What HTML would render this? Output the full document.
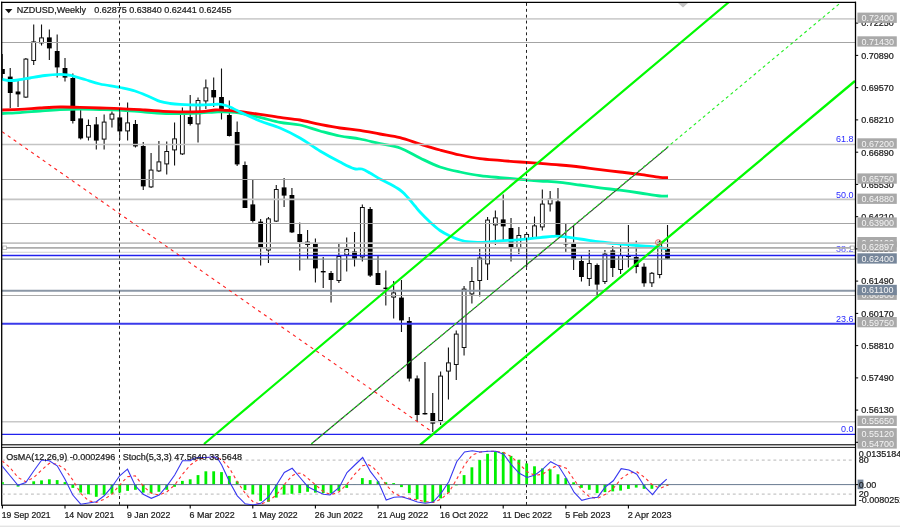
<!DOCTYPE html>
<html><head><meta charset="utf-8"><title>NZDUSD Weekly</title>
<style>html,body{margin:0;padding:0;background:#fff}svg{display:block}text{font-family:"Liberation Sans",sans-serif;font-size:9px}.k{fill:#1a1a1a;stroke:#1a1a1a;stroke-width:.22px}</style></head><body>
<svg width="900" height="527" viewBox="0 0 900 527">
<rect width="900" height="527" fill="#fff"/>
<rect x="0" y="525.6" width="900" height="1.4" fill="#e4e4e4"/>
<defs><clipPath id="m"><rect x="2.2" y="2.8" width="653" height="442"/></clipPath><clipPath id="mm"><rect x="2.2" y="2.8" width="853" height="442"/></clipPath><clipPath id="s"><rect x="2.2" y="447.5" width="853" height="57.5"/></clipPath></defs>
<g clip-path="url(#mm)" shape-rendering="auto">
<line x1="2.40" x2="2.40" y1="54" y2="80" stroke="#111" stroke-width="1.1"/>
<rect x="0.00" y="69" width="4.8" height="5.0" fill="#000"/>
<line x1="10.22" x2="10.22" y1="68" y2="108" stroke="#111" stroke-width="1.1"/>
<rect x="7.82" y="76.6" width="4.8" height="16.4" fill="#000"/>
<line x1="18.05" x2="18.05" y1="80" y2="107" stroke="#111" stroke-width="1.1"/>
<rect x="15.65" y="91.5" width="4.8" height="2.9" fill="#000"/>
<line x1="25.88" x2="25.88" y1="58" y2="98" stroke="#111" stroke-width="1.1"/>
<rect x="23.98" y="59.1" width="3.8" height="38.0" fill="#fff" stroke="#111" stroke-width="1"/>
<line x1="33.70" x2="33.70" y1="24.4" y2="65" stroke="#111" stroke-width="1.1"/>
<rect x="31.80" y="41.9" width="3.8" height="18.6" fill="#fff" stroke="#111" stroke-width="1"/>
<line x1="41.52" x2="41.52" y1="24.4" y2="45.6" stroke="#111" stroke-width="1.1"/>
<rect x="39.62" y="37.9" width="3.8" height="5.0" fill="#fff" stroke="#111" stroke-width="1"/>
<line x1="49.35" x2="49.35" y1="29.6" y2="60" stroke="#111" stroke-width="1.1"/>
<rect x="46.95" y="37.4" width="4.8" height="11.0" fill="#000"/>
<line x1="57.17" x2="57.17" y1="34.4" y2="77.6" stroke="#111" stroke-width="1.1"/>
<rect x="54.77" y="51" width="4.8" height="16.4" fill="#000"/>
<line x1="65.00" x2="65.00" y1="58" y2="81.6" stroke="#111" stroke-width="1.1"/>
<rect x="62.60" y="68" width="4.8" height="9.6" fill="#000"/>
<line x1="72.83" x2="72.83" y1="73.6" y2="123.6" stroke="#111" stroke-width="1.1"/>
<rect x="70.42" y="78" width="4.8" height="43.0" fill="#000"/>
<line x1="80.65" x2="80.65" y1="110" y2="139.6" stroke="#111" stroke-width="1.1"/>
<rect x="78.25" y="118.4" width="4.8" height="20.0" fill="#000"/>
<line x1="88.48" x2="88.48" y1="119.6" y2="140.4" stroke="#111" stroke-width="1.1"/>
<rect x="86.58" y="125.5" width="3.8" height="11.6" fill="#fff" stroke="#111" stroke-width="1"/>
<line x1="96.30" x2="96.30" y1="117" y2="149.4" stroke="#111" stroke-width="1.1"/>
<rect x="93.90" y="124.4" width="4.8" height="16.2" fill="#000"/>
<line x1="104.13" x2="104.13" y1="114.4" y2="149.4" stroke="#111" stroke-width="1.1"/>
<rect x="102.23" y="122.1" width="3.8" height="17.0" fill="#fff" stroke="#111" stroke-width="1"/>
<line x1="111.95" x2="111.95" y1="111.6" y2="127.6" stroke="#111" stroke-width="1.1"/>
<rect x="110.05" y="114.1" width="3.8" height="5.0" fill="#fff" stroke="#111" stroke-width="1"/>
<line x1="119.78" x2="119.78" y1="111" y2="140" stroke="#111" stroke-width="1.1"/>
<rect x="117.38" y="117.4" width="4.8" height="14.0" fill="#000"/>
<line x1="127.60" x2="127.60" y1="102.6" y2="140.4" stroke="#111" stroke-width="1.1"/>
<rect x="125.70" y="122.9" width="3.8" height="8.0" fill="#fff" stroke="#111" stroke-width="1"/>
<line x1="135.43" x2="135.43" y1="120" y2="147.4" stroke="#111" stroke-width="1.1"/>
<rect x="133.03" y="124" width="4.8" height="22.4" fill="#000"/>
<line x1="143.25" x2="143.25" y1="142" y2="190" stroke="#111" stroke-width="1.1"/>
<rect x="140.85" y="146" width="4.8" height="40.4" fill="#000"/>
<line x1="151.08" x2="151.08" y1="153" y2="188" stroke="#111" stroke-width="1.1"/>
<rect x="149.18" y="170.1" width="3.8" height="16.8" fill="#fff" stroke="#111" stroke-width="1"/>
<line x1="158.90" x2="158.90" y1="141" y2="172" stroke="#111" stroke-width="1.1"/>
<rect x="157.00" y="161.9" width="3.8" height="9.0" fill="#fff" stroke="#111" stroke-width="1"/>
<line x1="166.73" x2="166.73" y1="141.6" y2="174.4" stroke="#111" stroke-width="1.1"/>
<rect x="164.83" y="151.5" width="3.8" height="12.4" fill="#fff" stroke="#111" stroke-width="1"/>
<line x1="174.55" x2="174.55" y1="122.4" y2="165.6" stroke="#111" stroke-width="1.1"/>
<rect x="172.65" y="138.9" width="3.8" height="11.0" fill="#fff" stroke="#111" stroke-width="1"/>
<line x1="182.38" x2="182.38" y1="107.6" y2="155" stroke="#111" stroke-width="1.1"/>
<rect x="180.47" y="113.5" width="3.8" height="40.4" fill="#fff" stroke="#111" stroke-width="1"/>
<line x1="190.20" x2="190.20" y1="95" y2="125.6" stroke="#111" stroke-width="1.1"/>
<rect x="187.80" y="117" width="4.8" height="7.0" fill="#000"/>
<line x1="198.03" x2="198.03" y1="97.6" y2="142.4" stroke="#111" stroke-width="1.1"/>
<rect x="196.12" y="100.5" width="3.8" height="23.4" fill="#fff" stroke="#111" stroke-width="1"/>
<line x1="205.85" x2="205.85" y1="79.4" y2="109" stroke="#111" stroke-width="1.1"/>
<rect x="203.95" y="87.9" width="3.8" height="13.0" fill="#fff" stroke="#111" stroke-width="1"/>
<line x1="213.68" x2="213.68" y1="77.4" y2="107" stroke="#111" stroke-width="1.1"/>
<rect x="211.28" y="90" width="4.8" height="7.4" fill="#000"/>
<line x1="221.50" x2="221.50" y1="68.4" y2="119.6" stroke="#111" stroke-width="1.1"/>
<rect x="219.10" y="97" width="4.8" height="12.0" fill="#000"/>
<line x1="229.33" x2="229.33" y1="100.6" y2="136.6" stroke="#111" stroke-width="1.1"/>
<rect x="226.93" y="115" width="4.8" height="21.0" fill="#000"/>
<line x1="237.15" x2="237.15" y1="121.6" y2="166" stroke="#111" stroke-width="1.1"/>
<rect x="234.75" y="132" width="4.8" height="32.4" fill="#000"/>
<line x1="244.98" x2="244.98" y1="161.6" y2="208" stroke="#111" stroke-width="1.1"/>
<rect x="242.58" y="165" width="4.8" height="43.0" fill="#000"/>
<line x1="252.80" x2="252.80" y1="180" y2="222.4" stroke="#111" stroke-width="1.1"/>
<rect x="250.40" y="204.4" width="4.8" height="16.6" fill="#000"/>
<line x1="260.62" x2="260.62" y1="219" y2="265.6" stroke="#111" stroke-width="1.1"/>
<rect x="258.23" y="221.6" width="4.8" height="25.4" fill="#000"/>
<line x1="268.45" x2="268.45" y1="217" y2="263" stroke="#111" stroke-width="1.1"/>
<rect x="266.55" y="218.9" width="3.8" height="31.2" fill="#fff" stroke="#111" stroke-width="1"/>
<line x1="276.27" x2="276.27" y1="185" y2="222" stroke="#111" stroke-width="1.1"/>
<rect x="274.38" y="189.5" width="3.8" height="31.6" fill="#fff" stroke="#111" stroke-width="1"/>
<line x1="284.10" x2="284.10" y1="178" y2="207" stroke="#111" stroke-width="1.1"/>
<rect x="281.70" y="187.4" width="4.8" height="8.2" fill="#000"/>
<line x1="291.93" x2="291.93" y1="188" y2="233" stroke="#111" stroke-width="1.1"/>
<rect x="289.53" y="195" width="4.8" height="37.4" fill="#000"/>
<line x1="299.75" x2="299.75" y1="222.4" y2="270.4" stroke="#111" stroke-width="1.1"/>
<rect x="297.35" y="234" width="4.8" height="8.0" fill="#000"/>
<line x1="307.57" x2="307.57" y1="230" y2="259" stroke="#111" stroke-width="1.1"/>
<rect x="305.68" y="242.1" width="3.8" height="2.4" fill="#fff" stroke="#111" stroke-width="1"/>
<line x1="315.40" x2="315.40" y1="238.4" y2="282.4" stroke="#111" stroke-width="1.1"/>
<rect x="313.00" y="243.6" width="4.8" height="24.8" fill="#000"/>
<line x1="323.22" x2="323.22" y1="257" y2="288" stroke="#111" stroke-width="1.1"/>
<rect x="320.82" y="271" width="4.8" height="1.4" fill="#000"/>
<line x1="331.05" x2="331.05" y1="271" y2="302.4" stroke="#111" stroke-width="1.1"/>
<rect x="328.65" y="273" width="4.8" height="7.0" fill="#000"/>
<line x1="338.88" x2="338.88" y1="243" y2="283" stroke="#111" stroke-width="1.1"/>
<rect x="336.98" y="256.5" width="3.8" height="24.0" fill="#fff" stroke="#111" stroke-width="1"/>
<line x1="346.70" x2="346.70" y1="237.6" y2="271.4" stroke="#111" stroke-width="1.1"/>
<rect x="344.80" y="249.5" width="3.8" height="5.4" fill="#fff" stroke="#111" stroke-width="1"/>
<line x1="354.52" x2="354.52" y1="232" y2="266.4" stroke="#111" stroke-width="1.1"/>
<rect x="352.12" y="251.4" width="4.8" height="7.2" fill="#000"/>
<line x1="362.35" x2="362.35" y1="204.4" y2="261.6" stroke="#111" stroke-width="1.1"/>
<rect x="360.45" y="207.5" width="3.8" height="49.4" fill="#fff" stroke="#111" stroke-width="1"/>
<line x1="370.18" x2="370.18" y1="207" y2="277" stroke="#111" stroke-width="1.1"/>
<rect x="367.78" y="209" width="4.8" height="66.6" fill="#000"/>
<line x1="378.00" x2="378.00" y1="256" y2="285" stroke="#111" stroke-width="1.1"/>
<rect x="375.60" y="273" width="4.8" height="12.0" fill="#000"/>
<line x1="385.82" x2="385.82" y1="270.4" y2="305.4" stroke="#111" stroke-width="1.1"/>
<rect x="383.43" y="287.6" width="4.8" height="1.4" fill="#000"/>
<line x1="393.65" x2="393.65" y1="281" y2="318.4" stroke="#111" stroke-width="1.1"/>
<rect x="391.75" y="292.9" width="3.8" height="4.2" fill="#fff" stroke="#111" stroke-width="1"/>
<line x1="401.47" x2="401.47" y1="280" y2="332" stroke="#111" stroke-width="1.1"/>
<rect x="399.07" y="297.6" width="4.8" height="22.8" fill="#000"/>
<line x1="409.30" x2="409.30" y1="317" y2="381.6" stroke="#111" stroke-width="1.1"/>
<rect x="406.90" y="321" width="4.8" height="57.6" fill="#000"/>
<line x1="417.12" x2="417.12" y1="375.6" y2="421.6" stroke="#111" stroke-width="1.1"/>
<rect x="414.73" y="378.4" width="4.8" height="36.6" fill="#000"/>
<line x1="424.95" x2="424.95" y1="362" y2="414.4" stroke="#111" stroke-width="1.1"/>
<rect x="422.55" y="413" width="4.8" height="1.4" fill="#000"/>
<line x1="432.77" x2="432.77" y1="393" y2="432" stroke="#111" stroke-width="1.1"/>
<rect x="430.38" y="413" width="4.8" height="10.6" fill="#000"/>
<line x1="440.60" x2="440.60" y1="371.6" y2="425" stroke="#111" stroke-width="1.1"/>
<rect x="438.70" y="376.1" width="3.8" height="44.4" fill="#fff" stroke="#111" stroke-width="1"/>
<line x1="448.43" x2="448.43" y1="347.4" y2="399.4" stroke="#111" stroke-width="1.1"/>
<rect x="446.53" y="362.9" width="3.8" height="8.2" fill="#fff" stroke="#111" stroke-width="1"/>
<line x1="456.25" x2="456.25" y1="330.4" y2="380" stroke="#111" stroke-width="1.1"/>
<rect x="454.35" y="334.1" width="3.8" height="30.4" fill="#fff" stroke="#111" stroke-width="1"/>
<line x1="464.07" x2="464.07" y1="286" y2="355.6" stroke="#111" stroke-width="1.1"/>
<rect x="462.18" y="289.1" width="3.8" height="58.4" fill="#fff" stroke="#111" stroke-width="1"/>
<line x1="471.90" x2="471.90" y1="267" y2="303.6" stroke="#111" stroke-width="1.1"/>
<rect x="470.00" y="281.5" width="3.8" height="12.4" fill="#fff" stroke="#111" stroke-width="1"/>
<line x1="479.72" x2="479.72" y1="249" y2="296.4" stroke="#111" stroke-width="1.1"/>
<rect x="477.82" y="258.1" width="3.8" height="22.4" fill="#fff" stroke="#111" stroke-width="1"/>
<line x1="487.55" x2="487.55" y1="217" y2="280" stroke="#111" stroke-width="1.1"/>
<rect x="485.65" y="220.1" width="3.8" height="43.8" fill="#fff" stroke="#111" stroke-width="1"/>
<line x1="495.38" x2="495.38" y1="210.4" y2="245" stroke="#111" stroke-width="1.1"/>
<rect x="493.48" y="217.9" width="3.8" height="7.0" fill="#fff" stroke="#111" stroke-width="1"/>
<line x1="503.20" x2="503.20" y1="194.4" y2="240" stroke="#111" stroke-width="1.1"/>
<rect x="500.80" y="219.4" width="4.8" height="7.0" fill="#000"/>
<line x1="511.02" x2="511.02" y1="218" y2="261.6" stroke="#111" stroke-width="1.1"/>
<rect x="508.62" y="228" width="4.8" height="19.6" fill="#000"/>
<line x1="518.85" x2="518.85" y1="227" y2="254" stroke="#111" stroke-width="1.1"/>
<rect x="516.95" y="235.5" width="3.8" height="12.0" fill="#fff" stroke="#111" stroke-width="1"/>
<line x1="526.67" x2="526.67" y1="232.4" y2="267" stroke="#111" stroke-width="1.1"/>
<rect x="524.77" y="234.5" width="3.8" height="4.0" fill="#fff" stroke="#111" stroke-width="1"/>
<line x1="534.50" x2="534.50" y1="216.4" y2="238" stroke="#111" stroke-width="1.1"/>
<rect x="532.60" y="225.9" width="3.8" height="11.6" fill="#fff" stroke="#111" stroke-width="1"/>
<line x1="542.33" x2="542.33" y1="189.6" y2="230.4" stroke="#111" stroke-width="1.1"/>
<rect x="540.43" y="204.1" width="3.8" height="22.8" fill="#fff" stroke="#111" stroke-width="1"/>
<line x1="550.15" x2="550.15" y1="191" y2="211.4" stroke="#111" stroke-width="1.1"/>
<rect x="548.25" y="199.1" width="3.8" height="4.8" fill="#fff" stroke="#111" stroke-width="1"/>
<line x1="557.98" x2="557.98" y1="188" y2="235.6" stroke="#111" stroke-width="1.1"/>
<rect x="555.58" y="201.4" width="4.8" height="34.2" fill="#000"/>
<line x1="565.80" x2="565.80" y1="223.6" y2="252" stroke="#111" stroke-width="1.1"/>
<rect x="563.40" y="243" width="4.8" height="1.4" fill="#000"/>
<line x1="573.62" x2="573.62" y1="226" y2="270" stroke="#111" stroke-width="1.1"/>
<rect x="571.23" y="243.6" width="4.8" height="15.0" fill="#000"/>
<line x1="581.45" x2="581.45" y1="256" y2="281.6" stroke="#111" stroke-width="1.1"/>
<rect x="579.05" y="261" width="4.8" height="16.0" fill="#000"/>
<line x1="589.27" x2="589.27" y1="250" y2="286" stroke="#111" stroke-width="1.1"/>
<rect x="587.38" y="263.5" width="3.8" height="15.0" fill="#fff" stroke="#111" stroke-width="1"/>
<line x1="597.10" x2="597.10" y1="263.6" y2="295" stroke="#111" stroke-width="1.1"/>
<rect x="594.70" y="265" width="4.8" height="19.6" fill="#000"/>
<line x1="604.92" x2="604.92" y1="250" y2="284" stroke="#111" stroke-width="1.1"/>
<rect x="603.02" y="254.1" width="3.8" height="27.4" fill="#fff" stroke="#111" stroke-width="1"/>
<line x1="612.75" x2="612.75" y1="246" y2="277" stroke="#111" stroke-width="1.1"/>
<rect x="610.35" y="250.4" width="4.8" height="17.6" fill="#000"/>
<line x1="620.58" x2="620.58" y1="245" y2="274" stroke="#111" stroke-width="1.1"/>
<rect x="618.68" y="255.5" width="3.8" height="14.0" fill="#fff" stroke="#111" stroke-width="1"/>
<line x1="628.40" x2="628.40" y1="225" y2="267.5" stroke="#111" stroke-width="1.1"/>
<rect x="626.00" y="255.8" width="4.8" height="1.2" fill="#000"/>
<line x1="636.23" x2="636.23" y1="240.8" y2="273.3" stroke="#111" stroke-width="1.1"/>
<rect x="633.83" y="257" width="4.8" height="10.0" fill="#000"/>
<line x1="644.05" x2="644.05" y1="263.3" y2="286.7" stroke="#111" stroke-width="1.1"/>
<rect x="641.65" y="266.7" width="4.8" height="16.6" fill="#000"/>
<line x1="651.88" x2="651.88" y1="272" y2="287" stroke="#111" stroke-width="1.1"/>
<rect x="649.98" y="273.3" width="3.8" height="9.5" fill="#fff" stroke="#111" stroke-width="1"/>
<line x1="659.70" x2="659.70" y1="240" y2="278.3" stroke="#111" stroke-width="1.1"/>
<rect x="657.80" y="242.2" width="3.8" height="32.3" fill="#fff" stroke="#111" stroke-width="1"/>
<line x1="667.52" x2="667.52" y1="225" y2="258.7" stroke="#111" stroke-width="1.1"/>
<rect x="665.12" y="249" width="4.8" height="9.7" fill="#000"/>
</g>
<g clip-path="url(#mm)" fill="none" stroke-linejoin="round" stroke-linecap="butt">
<path d="M2.0,113.5C5.0,113.3 13.7,113.0 20.0,112.6C26.3,112.2 33.3,111.5 40.0,111.0C46.7,110.5 53.3,109.9 60.0,109.6C66.7,109.3 73.3,109.2 80.0,109.2C86.7,109.2 93.3,109.4 100.0,109.5C106.7,109.6 112.5,109.6 120.0,110.0C127.5,110.4 136.7,111.4 145.0,112.0C153.3,112.6 160.8,113.4 170.0,113.6C179.2,113.8 192.5,113.3 200.0,113.0C207.5,112.7 209.2,112.1 215.0,112.0C220.8,111.9 227.5,111.5 235.0,112.4C242.5,113.3 252.5,115.7 260.0,117.4C267.5,119.1 273.3,121.1 280.0,122.4C286.7,123.7 293.3,123.6 300.0,125.0C306.7,126.4 313.3,129.2 320.0,131.0C326.7,132.8 333.3,134.7 340.0,136.0C346.7,137.3 353.3,137.7 360.0,139.0C366.7,140.3 373.3,142.1 380.0,143.6C386.7,145.1 393.3,145.6 400.0,148.0C406.7,150.4 413.3,154.8 420.0,158.0C426.7,161.2 433.3,164.7 440.0,167.0C446.7,169.3 453.3,170.6 460.0,172.0C466.7,173.4 473.3,174.7 480.0,175.6C486.7,176.5 493.3,177.0 500.0,177.6C506.7,178.2 513.3,178.8 520.0,179.4C526.7,180.0 533.3,180.5 540.0,181.0C546.7,181.5 553.3,181.7 560.0,182.4C566.7,183.1 573.3,184.1 580.0,185.0C586.7,185.9 593.3,186.9 600.0,187.8C606.7,188.7 613.3,189.3 620.0,190.2C626.7,191.1 633.3,192.0 640.0,193.0C646.7,194.0 655.3,195.5 660.0,196.0C664.7,196.5 666.7,196.0 668.0,196.0" stroke="#00f090" stroke-width="2.8"/>
<path d="M2.0,110.0C5.0,109.9 13.7,109.6 20.0,109.3C26.3,109.0 33.3,108.4 40.0,108.0C46.7,107.6 53.3,107.1 60.0,107.0C66.7,106.9 73.3,107.1 80.0,107.3C86.7,107.5 93.3,107.8 100.0,108.0C106.7,108.2 112.5,108.3 120.0,108.6C127.5,108.9 136.7,109.5 145.0,110.0C153.3,110.5 160.8,111.3 170.0,111.6C179.2,111.9 192.5,111.9 200.0,111.6C207.5,111.3 210.8,110.2 215.0,110.0C219.2,109.8 221.7,110.1 225.0,110.3C228.3,110.5 229.2,110.3 235.0,111.0C240.8,111.7 252.5,113.3 260.0,114.4C267.5,115.5 273.3,116.5 280.0,117.4C286.7,118.3 293.3,118.8 300.0,120.0C306.7,121.2 313.3,123.1 320.0,124.4C326.7,125.7 333.3,127.0 340.0,128.0C346.7,129.0 353.3,129.4 360.0,130.4C366.7,131.4 373.3,132.8 380.0,134.0C386.7,135.2 393.3,135.9 400.0,137.6C406.7,139.3 413.3,141.9 420.0,144.0C426.7,146.1 433.3,148.2 440.0,150.0C446.7,151.8 453.3,153.6 460.0,155.0C466.7,156.4 473.3,157.7 480.0,158.6C486.7,159.5 493.3,159.8 500.0,160.4C506.7,161.0 513.3,161.5 520.0,162.0C526.7,162.5 533.3,162.9 540.0,163.4C546.7,163.9 553.3,164.4 560.0,165.0C566.7,165.6 573.3,166.2 580.0,167.0C586.7,167.8 593.3,168.8 600.0,169.6C606.7,170.4 613.3,171.2 620.0,172.0C626.7,172.8 633.3,173.5 640.0,174.4C646.7,175.3 655.3,176.9 660.0,177.4C664.7,177.9 666.7,177.6 668.0,177.6" stroke="#ff0000" stroke-width="2.8"/>
<path d="M2.0,79.4C3.3,79.6 7.3,80.4 10.0,80.5C12.7,80.6 14.7,80.4 18.0,80.0C21.3,79.6 25.5,78.8 30.0,78.0C34.5,77.2 40.0,76.1 45.0,75.5C50.0,74.9 56.2,74.5 60.0,74.4C63.8,74.3 65.8,74.7 68.0,75.0C70.2,75.3 70.2,75.2 73.0,76.0C75.8,76.8 80.5,78.2 85.0,79.5C89.5,80.8 94.2,82.7 100.0,84.0C105.8,85.3 114.2,86.3 120.0,87.5C125.8,88.7 130.0,89.4 135.0,91.0C140.0,92.6 145.8,95.3 150.0,97.0C154.2,98.7 156.7,100.3 160.0,101.4C163.3,102.5 166.7,103.0 170.0,103.5C173.3,104.0 175.0,104.2 180.0,104.4C185.0,104.7 194.2,105.0 200.0,105.0C205.8,105.0 211.3,104.4 215.0,104.3C218.7,104.2 219.5,104.0 222.0,104.5C224.5,105.0 227.0,105.8 230.0,107.0C233.0,108.2 235.0,109.7 240.0,112.0C245.0,114.3 253.3,118.3 260.0,121.0C266.7,123.7 273.3,125.2 280.0,128.0C286.7,130.8 293.3,134.2 300.0,138.0C306.7,141.8 313.3,147.0 320.0,151.0C326.7,155.0 334.3,159.1 340.0,162.0C345.7,164.9 350.3,167.4 354.0,168.6C357.7,169.8 359.3,168.3 362.0,169.0C364.7,169.7 367.0,171.3 370.0,173.0C373.0,174.7 376.7,177.2 380.0,179.0C383.3,180.8 386.7,182.2 390.0,184.0C393.3,185.8 397.5,188.2 400.0,190.0C402.5,191.8 403.3,192.8 405.0,194.5C406.7,196.2 408.3,198.1 410.0,200.0C411.7,201.9 413.3,204.0 415.0,206.0C416.7,208.0 417.5,209.3 420.0,212.0C422.5,214.7 426.7,218.9 430.0,222.0C433.3,225.1 436.7,228.2 440.0,230.5C443.3,232.8 446.7,234.4 450.0,236.0C453.3,237.6 456.7,239.0 460.0,240.0C463.3,241.0 466.7,241.6 470.0,242.0C473.3,242.4 475.0,242.6 480.0,242.4C485.0,242.2 493.3,241.5 500.0,241.0C506.7,240.5 513.3,240.2 520.0,239.6C526.7,239.0 534.7,238.1 540.0,237.6C545.3,237.1 548.7,236.6 552.0,236.4C555.3,236.2 555.3,236.0 560.0,236.4C564.7,236.8 573.3,238.1 580.0,239.0C586.7,239.9 593.3,241.2 600.0,242.0C606.7,242.8 614.7,243.5 620.0,244.0C625.3,244.5 625.6,244.5 631.7,245.0C637.8,245.5 650.8,246.3 656.7,247.0C662.6,247.7 665.3,248.7 667.0,249.0" stroke="#00ffff" stroke-width="2.8"/>
</g>
<text x="853.6" y="252.3" text-anchor="end" fill="#4a4aff">38.2</text>
<g>
<line x1="2" x2="855" y1="18.9" y2="18.9" stroke="#cfcfcf" stroke-width="1.6"/>
<line x1="2" x2="855" y1="42.5" y2="42.5" stroke="#a4a4a4" stroke-width="1"/>
<line x1="2" x2="855" y1="144.5" y2="144.5" stroke="#c4c4c4" stroke-width="1.6"/>
<line x1="2" x2="855" y1="179.5" y2="179.5" stroke="#a4a4a4" stroke-width="1"/>
<line x1="2" x2="855" y1="199.4" y2="199.4" stroke="#c4c4c4" stroke-width="1.6"/>
<line x1="2" x2="855" y1="223.5" y2="223.5" stroke="#a4a4a4" stroke-width="1"/>
<line x1="2" x2="855" y1="243.1" y2="243.1" stroke="#c2c2c2" stroke-width="1.8"/>
<line x1="2" x2="855" y1="247.9" y2="247.9" stroke="#adadad" stroke-width="1.8"/>
<line x1="2" x2="855" y1="252.2" y2="252.2" stroke="#d2d4d2" stroke-width="1.1"/>
<line x1="2" x2="855" y1="259.2" y2="259.2" stroke="#808f9c" stroke-width="1.3"/>
<line x1="2" x2="855" y1="290.8" y2="290.8" stroke="#8b97a6" stroke-width="2"/>
<line x1="2" x2="855" y1="295.5" y2="295.5" stroke="#aaaaaa" stroke-width="1"/>
<line x1="2" x2="855" y1="421.7" y2="421.7" stroke="#c8c8c8" stroke-width="1.6"/>
</g>
<line x1="2" x2="855" y1="255.4" y2="255.4" stroke="#2222ee" stroke-width="1.5"/>
<line x1="2" x2="855" y1="323.8" y2="323.8" stroke="#3a3aea" stroke-width="2"/>
<line x1="2" x2="855" y1="434.4" y2="434.4" stroke="#2222ee" stroke-width="1.4"/>
<line x1="119.5" x2="119.5" y1="3" y2="505" stroke="#222" stroke-width="1" stroke-dasharray="2.9 2.97"/>
<line x1="526.5" x2="526.5" y1="3" y2="505" stroke="#222" stroke-width="1" stroke-dasharray="2.9 2.97"/>
<line x1="2" y1="131.6" x2="432" y2="431.8" stroke="#ff2020" stroke-width="1.1" stroke-dasharray="3.2 3.9" clip-path="url(#mm)"/>
<g clip-path="url(#mm)">
<line x1="311.2" y1="444" x2="668" y2="147.2" stroke="#333" stroke-width="1.1"/>
<line x1="311.2" y1="444" x2="841.5" y2="2" stroke="#22ee22" stroke-width="1.1" stroke-dasharray="3 3"/>
<line x1="204" y1="444" x2="729" y2="2" stroke="#00fa00" stroke-width="2.2"/>
<line x1="420" y1="445" x2="855" y2="81" stroke="#00fa00" stroke-width="2.3"/>
</g>
<circle cx="658.3" cy="242.5" r="2.8" fill="none" stroke="#f06060" stroke-width="1"/>
<rect x="2.8" y="246" width="3.6" height="3.6" fill="#fff" stroke="#aaa" stroke-width="0.8"/>
<rect x="850.6" y="246" width="3.6" height="3.6" fill="#fff" stroke="#aaa" stroke-width="0.8"/>
<polygon points="678,3 688,3 683,7.6" fill="#c4c4c4"/>
<text x="853.6" y="141.6" text-anchor="end" fill="#2a2aff">61.8</text>
<text x="853.6" y="197.6" text-anchor="end" fill="#2a2aff">50.0</text>
<text x="853.6" y="321.6" text-anchor="end" fill="#2a2aff">23.6</text>
<text x="853.6" y="432" text-anchor="end" fill="#2a2aff">0.0</text>
<g fill="none" stroke="#000">
<line x1="1.7" x2="1.7" y1="1.8" y2="505.5" stroke-width="1.3"/>
<line x1="1" x2="856" y1="2.4" y2="2.4" stroke-width="1.2"/>
<line x1="855.5" x2="855.5" y1="1.8" y2="506" stroke-width="1.3"/>
<line x1="1" x2="856" y1="444.9" y2="444.9" stroke-width="1.4"/>
<line x1="1" x2="856" y1="447.3" y2="447.3" stroke-width="1"/>
<line x1="1" x2="856" y1="505.3" y2="505.3" stroke-width="1.4" stroke="#333"/>
</g>
<rect x="2.4" y="445.6" width="852.5" height="1.2" fill="#ececec"/>
<polygon points="5,9 12.4,9 8.7,13.2" fill="#111"/>
<text y="13.3" class="k"><tspan x="16.7">NZDUSD,Weekly</tspan><tspan x="94.2">0.62875</tspan><tspan x="129.3">0.63840</tspan><tspan x="164.3">0.62441</tspan><tspan x="199">0.62455</tspan></text>
<line x1="856" x2="858.2" y1="23.1" y2="23.1" stroke="#000" stroke-width="1"/>
<text x="861.2" y="26.4" class="k">0.72250</text>
<line x1="856" x2="858.2" y1="55.4" y2="55.4" stroke="#000" stroke-width="1"/>
<text x="861.2" y="58.7" class="k">0.70890</text>
<line x1="856" x2="858.2" y1="87.7" y2="87.7" stroke="#000" stroke-width="1"/>
<text x="861.2" y="91.0" class="k">0.69570</text>
<line x1="856" x2="858.2" y1="119.9" y2="119.9" stroke="#000" stroke-width="1"/>
<text x="861.2" y="123.2" class="k">0.68210</text>
<line x1="856" x2="858.2" y1="152.2" y2="152.2" stroke="#000" stroke-width="1"/>
<text x="861.2" y="155.5" class="k">0.66890</text>
<line x1="856" x2="858.2" y1="184.4" y2="184.4" stroke="#000" stroke-width="1"/>
<text x="861.2" y="187.7" class="k">0.65530</text>
<line x1="856" x2="858.2" y1="216.7" y2="216.7" stroke="#000" stroke-width="1"/>
<text x="861.2" y="220.0" class="k">0.64210</text>
<line x1="856" x2="858.2" y1="248.9" y2="248.9" stroke="#000" stroke-width="1"/>
<text x="861.2" y="252.2" class="k">0.62850</text>
<line x1="856" x2="858.2" y1="281.1" y2="281.1" stroke="#000" stroke-width="1"/>
<text x="861.2" y="284.4" class="k">0.61490</text>
<line x1="856" x2="858.2" y1="313.4" y2="313.4" stroke="#000" stroke-width="1"/>
<text x="861.2" y="316.7" class="k">0.60170</text>
<line x1="856" x2="858.2" y1="345.6" y2="345.6" stroke="#000" stroke-width="1"/>
<text x="861.2" y="348.9" class="k">0.58810</text>
<line x1="856" x2="858.2" y1="377.9" y2="377.9" stroke="#000" stroke-width="1"/>
<text x="861.2" y="381.2" class="k">0.57490</text>
<line x1="856" x2="858.2" y1="410.1" y2="410.1" stroke="#000" stroke-width="1"/>
<text x="861.2" y="413.4" class="k">0.56130</text>
<rect x="857.4" y="12.6" width="39.4" height="10.3" fill="#a9a9a9"/>
<text x="861.6" y="21.2" fill="#f4f4f4">0.72400</text>
<rect x="857.4" y="36.3" width="39.4" height="10.3" fill="#a9a9a9"/>
<text x="861.6" y="44.9" fill="#f4f4f4">0.71430</text>
<rect x="857.4" y="138.3" width="39.4" height="10.3" fill="#a9a9a9"/>
<text x="861.6" y="146.9" fill="#f4f4f4">0.67200</text>
<rect x="857.4" y="173.4" width="39.4" height="10.3" fill="#a9a9a9"/>
<text x="861.6" y="182.0" fill="#f4f4f4">0.65750</text>
<rect x="857.4" y="193.6" width="39.4" height="10.3" fill="#a9a9a9"/>
<text x="861.6" y="202.2" fill="#f4f4f4">0.64880</text>
<rect x="857.4" y="217.4" width="39.4" height="10.3" fill="#a9a9a9"/>
<text x="861.6" y="226.0" fill="#f4f4f4">0.63900</text>
<rect x="857.4" y="237.0" width="39.4" height="10.3" fill="#a9a9a9"/>
<text x="861.6" y="245.6" fill="#f4f4f4">0.63100</text>
<rect x="857.4" y="241.4" width="39.4" height="10.3" fill="#a9a9a9"/>
<text x="861.6" y="250.0" fill="#f4f4f4">0.62897</text>
<rect x="857.4" y="253.3" width="39.4" height="10.3" fill="#76869a"/>
<text x="861.6" y="261.9" fill="#f4f4f4">0.62400</text>
<rect x="857.4" y="289.6" width="39.4" height="10.3" fill="#a9a9a9"/>
<text x="861.6" y="298.2" fill="#f4f4f4">0.60900</text>
<rect x="857.4" y="284.8" width="39.4" height="10.3" fill="#76869a"/>
<text x="861.6" y="293.4" fill="#f4f4f4">0.61100</text>
<rect x="857.4" y="317.0" width="39.4" height="10.3" fill="#a9a9a9"/>
<text x="861.6" y="325.6" fill="#f4f4f4">0.59750</text>
<rect x="857.4" y="415.7" width="39.4" height="10.3" fill="#a9a9a9"/>
<text x="861.6" y="424.3" fill="#f4f4f4">0.55650</text>
<rect x="857.4" y="428.2" width="39.4" height="11" fill="#a9a9a9"/>
<text x="861.6" y="436.8" fill="#f4f4f4">0.55120</text>
<rect x="857.4" y="438.8" width="39.4" height="9.8" fill="#a9a9a9"/>
<text x="861.6" y="447.4" fill="#f4f4f4">0.54700</text>
<g clip-path="url(#s)">
<line x1="2" x2="855" y1="460.1" y2="460.1" stroke="#c6c6c6" stroke-width="1.2" stroke-dasharray="2.9 2.9"/>
<line x1="2" x2="855" y1="494.2" y2="494.2" stroke="#c6c6c6" stroke-width="1.2" stroke-dasharray="2.9 2.9"/>
<rect x="1.00" y="482.1" width="2.8" height="2.5" fill="#00f000"/>
<rect x="8.82" y="484.3" width="2.8" height="0.3" fill="#00f000"/>
<rect x="16.65" y="484.6" width="2.8" height="2.0" fill="#00f000"/>
<rect x="24.48" y="484.3" width="2.8" height="0.3" fill="#00f000"/>
<rect x="32.30" y="481.3" width="2.8" height="3.3" fill="#00f000"/>
<rect x="40.12" y="480.4" width="2.8" height="4.2" fill="#00f000"/>
<rect x="47.95" y="479.3" width="2.8" height="5.3" fill="#00f000"/>
<rect x="55.77" y="480.1" width="2.8" height="4.5" fill="#00f000"/>
<rect x="63.60" y="482.1" width="2.8" height="2.5" fill="#00f000"/>
<rect x="71.42" y="484.6" width="2.8" height="3.3" fill="#00f000"/>
<rect x="79.25" y="484.6" width="2.8" height="8.0" fill="#00f000"/>
<rect x="87.08" y="484.6" width="2.8" height="9.7" fill="#00f000"/>
<rect x="94.90" y="484.6" width="2.8" height="12.2" fill="#00f000"/>
<rect x="102.73" y="484.6" width="2.8" height="10.2" fill="#00f000"/>
<rect x="110.55" y="484.6" width="2.8" height="9.2" fill="#00f000"/>
<rect x="118.38" y="484.6" width="2.8" height="8.0" fill="#00f000"/>
<rect x="126.20" y="484.6" width="2.8" height="6.3" fill="#00f000"/>
<rect x="134.03" y="484.6" width="2.8" height="5.2" fill="#00f000"/>
<rect x="141.85" y="484.6" width="2.8" height="8.0" fill="#00f000"/>
<rect x="149.68" y="484.6" width="2.8" height="8.5" fill="#00f000"/>
<rect x="157.50" y="484.6" width="2.8" height="7.2" fill="#00f000"/>
<rect x="165.33" y="484.6" width="2.8" height="5.2" fill="#00f000"/>
<rect x="173.15" y="484.6" width="2.8" height="2.2" fill="#00f000"/>
<rect x="180.97" y="480.9" width="2.8" height="3.7" fill="#00f000"/>
<rect x="188.80" y="479.3" width="2.8" height="5.3" fill="#00f000"/>
<rect x="196.62" y="475.1" width="2.8" height="9.5" fill="#00f000"/>
<rect x="204.45" y="471.3" width="2.8" height="13.3" fill="#00f000"/>
<rect x="212.28" y="471.3" width="2.8" height="13.3" fill="#00f000"/>
<rect x="220.10" y="472.1" width="2.8" height="12.5" fill="#00f000"/>
<rect x="227.93" y="475.9" width="2.8" height="8.7" fill="#00f000"/>
<rect x="235.75" y="481.3" width="2.8" height="3.3" fill="#00f000"/>
<rect x="243.58" y="484.6" width="2.8" height="5.5" fill="#00f000"/>
<rect x="251.40" y="484.6" width="2.8" height="9.7" fill="#00f000"/>
<rect x="259.23" y="484.6" width="2.8" height="16.3" fill="#00f000"/>
<rect x="267.05" y="484.6" width="2.8" height="17.2" fill="#00f000"/>
<rect x="274.88" y="484.6" width="2.8" height="13.0" fill="#00f000"/>
<rect x="282.70" y="484.6" width="2.8" height="10.0" fill="#00f000"/>
<rect x="290.53" y="484.6" width="2.8" height="9.2" fill="#00f000"/>
<rect x="298.35" y="484.6" width="2.8" height="8.5" fill="#00f000"/>
<rect x="306.18" y="484.6" width="2.8" height="7.2" fill="#00f000"/>
<rect x="314.00" y="484.6" width="2.8" height="8.0" fill="#00f000"/>
<rect x="321.82" y="484.6" width="2.8" height="8.5" fill="#00f000"/>
<rect x="329.65" y="484.6" width="2.8" height="8.8" fill="#00f000"/>
<rect x="337.48" y="484.6" width="2.8" height="6.3" fill="#00f000"/>
<rect x="345.30" y="484.6" width="2.8" height="3.3" fill="#00f000"/>
<rect x="353.12" y="484.3" width="2.8" height="0.3" fill="#00f000"/>
<rect x="360.95" y="478.1" width="2.8" height="6.5" fill="#00f000"/>
<rect x="368.78" y="480.1" width="2.8" height="4.5" fill="#00f000"/>
<rect x="376.60" y="481.3" width="2.8" height="3.3" fill="#00f000"/>
<rect x="384.43" y="482.3" width="2.8" height="2.3" fill="#00f000"/>
<rect x="392.25" y="483.1" width="2.8" height="1.5" fill="#00f000"/>
<rect x="400.07" y="484.6" width="2.8" height="2.5" fill="#00f000"/>
<rect x="407.90" y="484.6" width="2.8" height="8.5" fill="#00f000"/>
<rect x="415.73" y="484.6" width="2.8" height="14.7" fill="#00f000"/>
<rect x="423.55" y="484.6" width="2.8" height="18.0" fill="#00f000"/>
<rect x="431.38" y="484.6" width="2.8" height="18.0" fill="#00f000"/>
<rect x="439.20" y="484.6" width="2.8" height="13.8" fill="#00f000"/>
<rect x="447.03" y="484.6" width="2.8" height="8.0" fill="#00f000"/>
<rect x="454.85" y="484.6" width="2.8" height="0.8" fill="#00f000"/>
<rect x="462.68" y="475.1" width="2.8" height="9.5" fill="#00f000"/>
<rect x="470.50" y="467.3" width="2.8" height="17.3" fill="#00f000"/>
<rect x="478.32" y="460.1" width="2.8" height="24.5" fill="#00f000"/>
<rect x="486.15" y="453.8" width="2.8" height="30.8" fill="#00f000"/>
<rect x="493.98" y="451.4" width="2.8" height="33.2" fill="#00f000"/>
<rect x="501.80" y="452.1" width="2.8" height="32.5" fill="#00f000"/>
<rect x="509.62" y="455.9" width="2.8" height="28.7" fill="#00f000"/>
<rect x="517.45" y="459.8" width="2.8" height="24.8" fill="#00f000"/>
<rect x="525.27" y="463.4" width="2.8" height="21.2" fill="#00f000"/>
<rect x="533.10" y="466.3" width="2.8" height="18.3" fill="#00f000"/>
<rect x="540.93" y="468.4" width="2.8" height="16.2" fill="#00f000"/>
<rect x="548.75" y="469.3" width="2.8" height="15.3" fill="#00f000"/>
<rect x="556.58" y="474.3" width="2.8" height="10.3" fill="#00f000"/>
<rect x="564.40" y="478.1" width="2.8" height="6.5" fill="#00f000"/>
<rect x="572.23" y="482.3" width="2.8" height="2.3" fill="#00f000"/>
<rect x="580.05" y="484.6" width="2.8" height="3.3" fill="#00f000"/>
<rect x="587.88" y="484.6" width="2.8" height="5.2" fill="#00f000"/>
<rect x="595.70" y="484.6" width="2.8" height="8.5" fill="#00f000"/>
<rect x="603.52" y="484.6" width="2.8" height="7.5" fill="#00f000"/>
<rect x="611.35" y="484.6" width="2.8" height="6.8" fill="#00f000"/>
<rect x="619.18" y="484.6" width="2.8" height="6.0" fill="#00f000"/>
<rect x="627.00" y="484.6" width="2.8" height="4.3" fill="#00f000"/>
<rect x="634.83" y="484.6" width="2.8" height="3.0" fill="#00f000"/>
<rect x="642.65" y="484.6" width="2.8" height="4.2" fill="#00f000"/>
<rect x="650.48" y="484.6" width="2.8" height="4.2" fill="#00f000"/>
<rect x="658.30" y="484.6" width="2.8" height="1.8" fill="#00f000"/>
<rect x="666.12" y="484.6" width="2.8" height="0.8" fill="#00f000"/>
<line x1="2" x2="855" y1="484.6" y2="484.6" stroke="#687a90" stroke-width="1"/>
<polyline points="2.0,460.8 10.0,467.5 18.0,477.5 25.8,481.7 33.7,477.5 41.7,470.0 49.3,463.3 57.2,464.2 65.0,469.2 72.8,480.0 80.7,493.3 88.5,500.8 96.3,502.5 104.2,499.2 112.0,494.2 119.7,485.0 127.5,476.7 135.3,475.8 143.2,486.0 151.3,493.3 159.2,495.0 167.0,491.7 174.7,485.0 182.5,474.2 190.3,465.0 198.3,459.2 206.0,457.5 213.8,457.5 221.7,459.2 229.5,468.3 237.3,481.7 245.2,493.3 253.0,501.7 260.8,504.2 268.7,500.8 276.5,495.0 284.3,484.5 292.2,475.8 296.7,473.3 301.7,473.3 307.8,478.3 315.7,485.0 323.5,491.7 331.3,494.7 339.2,491.7 347.0,484.2 354.8,474.2 362.7,465.8 368.3,464.7 373.3,467.5 378.3,473.3 386.2,485.0 394.0,493.3 401.8,496.7 409.7,498.3 417.5,500.0 425.3,501.7 433.2,502.5 441.0,499.2 448.8,492.5 456.7,479.2 464.5,465.0 472.3,455.0 480.2,452.0 488.0,451.3 495.8,451.3 503.7,452.5 511.5,456.7 519.3,464.2 527.2,471.7 535.0,475.3 542.8,474.2 550.7,468.3 558.5,465.3 566.3,468.3 574.2,480.0 581.8,490.0 589.8,497.0 597.7,498.3 605.5,494.2 613.3,488.3 621.2,478.7 629.0,473.3 636.8,471.7 644.7,477.5 652.5,485.0 660.3,488.3 668.2,485.0" fill="none" stroke="#ff3030" stroke-width="1.1" stroke-dasharray="3 3"/>
<polyline points="2.0,465.8 10.3,476.0 18.0,485.3 25.8,482.5 33.7,471.0 41.7,460.0 49.3,460.8 57.2,465.8 65.0,479.2 72.8,495.0 80.7,504.2 88.5,503.0 96.3,501.7 104.2,495.8 112.0,486.7 119.7,475.8 127.5,469.2 135.3,485.8 143.2,494.2 151.3,498.3 159.2,495.0 167.0,485.8 174.7,475.0 182.5,460.8 190.3,460.8 194.2,458.3 198.3,457.5 206.0,457.5 213.8,456.7 217.5,458.3 221.7,465.0 229.5,481.7 237.3,495.8 245.2,503.8 253.0,505.0 260.8,503.3 268.7,496.7 276.5,485.0 284.3,472.5 292.2,468.3 300.0,477.5 307.8,486.7 315.7,490.8 323.5,494.2 330.0,495.0 339.2,487.5 347.0,472.5 354.8,465.0 362.7,457.5 370.5,471.7 378.3,481.7 386.2,500.0 394.0,497.2 401.8,496.7 409.7,499.2 417.5,502.0 425.3,503.3 433.2,502.0 441.0,493.3 448.8,481.7 456.7,461.7 464.5,452.0 472.3,450.8 480.2,452.0 488.0,451.3 495.8,451.3 503.7,454.2 511.5,465.0 519.3,473.3 527.2,477.5 535.0,475.0 542.8,469.2 550.7,461.7 558.5,465.8 566.3,478.3 574.2,492.5 581.8,500.3 589.8,498.3 597.7,497.2 605.5,486.7 613.3,480.8 621.2,468.7 629.0,470.0 636.8,474.2 644.7,486.7 652.5,494.7 660.3,485.0 666.7,479.2" fill="none" stroke="#3838f0" stroke-width="1.1"/>
</g>
<text y="460" class="k"><tspan x="6.3">OsMA(12,26,9) -0.0002496</tspan><tspan x="122.8">Stoch(5,3,3) 47.5640 33.5648</tspan></text>
<text x="858.7" y="457.3" class="k">0.0135184</text>
<text x="858.7" y="463.2" class="k">80</text>
<rect x="857.6" y="479.6" width="5.8" height="9.6" fill="#76869a"/>
<text x="858.7" y="487.6" class="k">0.00</text>
<text x="858.7" y="497" class="k">20</text>
<text x="858.7" y="502.9" class="k">-0.0080252</text>
<line x1="856" x2="858" y1="484.6" y2="484.6" stroke="#000" stroke-width="1"/>
<line x1="856" x2="858" y1="442.3" y2="442.3" stroke="#000" stroke-width="1"/>
<line x1="2.4" x2="2.4" y1="505" y2="508.5" stroke="#000" stroke-width="1.1"/>
<text x="1.8" y="518.3" class="k" textLength="48.8" lengthAdjust="spacingAndGlyphs">19 Sep 2021</text>
<line x1="65.0" x2="65.0" y1="505" y2="508.5" stroke="#000" stroke-width="1.1"/>
<text x="64.4" y="518.3" class="k" textLength="50" lengthAdjust="spacingAndGlyphs">14 Nov 2021</text>
<line x1="127.6" x2="127.6" y1="505" y2="508.5" stroke="#000" stroke-width="1.1"/>
<text x="127.0" y="518.3" class="k" textLength="43.3" lengthAdjust="spacingAndGlyphs">9 Jan 2022</text>
<line x1="190.2" x2="190.2" y1="505" y2="508.5" stroke="#000" stroke-width="1.1"/>
<text x="189.6" y="518.3" class="k" textLength="45" lengthAdjust="spacingAndGlyphs">6 Mar 2022</text>
<line x1="252.8" x2="252.8" y1="505" y2="508.5" stroke="#000" stroke-width="1.1"/>
<text x="252.2" y="518.3" class="k" textLength="45.5" lengthAdjust="spacingAndGlyphs">1 May 2022</text>
<line x1="315.4" x2="315.4" y1="505" y2="508.5" stroke="#000" stroke-width="1.1"/>
<text x="314.8" y="518.3" class="k" textLength="48" lengthAdjust="spacingAndGlyphs">26 Jun 2022</text>
<line x1="378.0" x2="378.0" y1="505" y2="508.5" stroke="#000" stroke-width="1.1"/>
<text x="377.4" y="518.3" class="k" textLength="50.8" lengthAdjust="spacingAndGlyphs">21 Aug 2022</text>
<line x1="440.6" x2="440.6" y1="505" y2="508.5" stroke="#000" stroke-width="1.1"/>
<text x="440.0" y="518.3" class="k" textLength="48.3" lengthAdjust="spacingAndGlyphs">16 Oct 2022</text>
<line x1="503.2" x2="503.2" y1="505" y2="508.5" stroke="#000" stroke-width="1.1"/>
<text x="502.6" y="518.3" class="k" textLength="49.4" lengthAdjust="spacingAndGlyphs">11 Dec 2022</text>
<line x1="565.8" x2="565.8" y1="505" y2="508.5" stroke="#000" stroke-width="1.1"/>
<text x="565.2" y="518.3" class="k" textLength="45.3" lengthAdjust="spacingAndGlyphs">5 Feb 2023</text>
<line x1="628.4" x2="628.4" y1="505" y2="508.5" stroke="#000" stroke-width="1.1"/>
<text x="627.8" y="518.3" class="k" textLength="43.8" lengthAdjust="spacingAndGlyphs">2 Apr 2023</text>
</svg></body></html>
